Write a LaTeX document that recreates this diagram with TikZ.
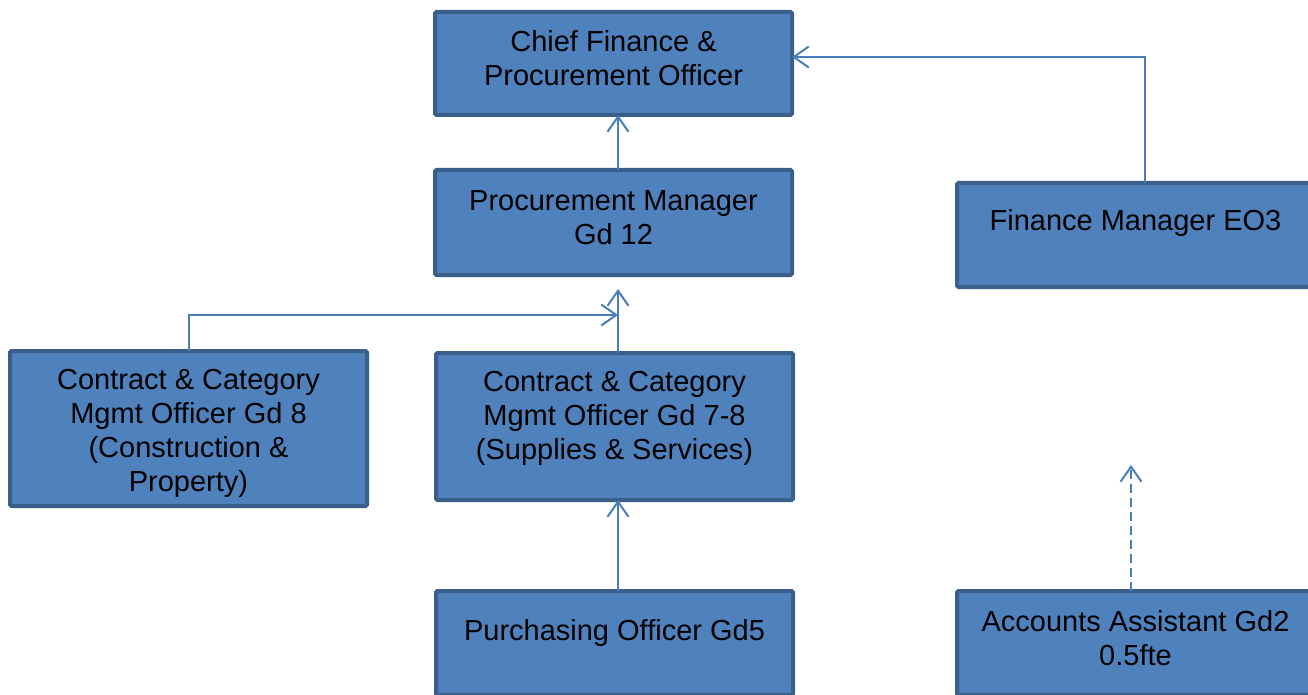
\documentclass[tikz,border=0pt]{standalone}
\usepackage{fontspec}
\setmainfont{Liberation Sans}
\usetikzlibrary{arrows.meta}
\definecolor{boxfill}{HTML}{4F81BD}
\definecolor{boxline}{HTML}{3A5F8B}
\definecolor{conn}{HTML}{4A7EBB}
\tikzset{
  orgbox/.style={draw=boxline, line width=4pt, fill=boxfill, rounded corners=1.5pt,
    minimum width=357pt, inner sep=0pt, outer sep=0pt},
  boxtext/.style={align=center, font=\fontsize{29}{34}\selectfont, text=black, inner sep=0pt},
  link/.style={draw=conn, line width=2pt},
  arr/.style={link, -{Straight Barb[length=15pt,width=21pt,line width=2pt]}},
  dashlink/.style={arr, dash pattern=on 9pt off 5pt}
}
\begin{document}
\begin{tikzpicture}[x=1pt,y=-1pt]
\useasboundingbox (0,0) rectangle (1308,695);
\clip (0,0) rectangle (1308,695);
% boxes
\node[orgbox, minimum height=103pt] (cfo) at (613.5,63.5) {};
\node[orgbox, minimum height=105pt] (pm) at (613.5,222.5) {};
\node[orgbox, minimum height=104pt] (fm) at (1135.5,235) {};
\node[orgbox, minimum height=155pt] (ccl) at (188.5,428.5) {};
\node[orgbox, minimum height=147pt] (ccm) at (614.5,426.5) {};
\node[orgbox, minimum height=104pt] (po) at (614.5,643) {};
\node[orgbox, minimum height=104pt] (aa) at (1135.5,643) {};
% texts
\node[boxtext] (cfot) at ([yshift=5.5pt]cfo.center) {Chief Finance \&\\Procurement Officer};
\node[boxtext] (pmt) at ([yshift=5pt]pm.center) {Procurement Manager\\Gd 12};
\node[boxtext] (fmt) at ([yshift=11.5pt]fm.center) {Finance Manager EO3};
\node[boxtext] (cclt) at ([yshift=-5pt]ccl.center) {Contract \& Category\\Mgmt Officer Gd 8\\(Construction \&\\Property)};
\node[boxtext] (ccmt) at ([yshift=8pt]ccm.center) {Contract \& Category\\Mgmt Officer Gd 7-8\\(Supplies \& Services)};
\node[boxtext] (pot) at ([yshift=10.5pt]po.center) {Purchasing Officer Gd5};
\node[boxtext] (aat) at ([yshift=4.5pt]aa.center) {Accounts Assistant Gd2\\0.5fte};
% connectors
\coordinate (join) at (618,315);
\coordinate (pmin) at (618,289);
\coordinate (aaend) at (1131,465);
\draw[arr] ([xshift=3.5pt]po.north) -- ([xshift=3.5pt]ccm.south);
\draw[arr] ([xshift=3.5pt]ccm.north) -- (pmin);
\draw[arr] (ccl.north) |- (join);
\draw[arr] ([xshift=4.5pt]pm.north) -- ([xshift=4.5pt]cfo.south);
\draw[arr] ([xshift=9.5pt]fm.north) |- ([yshift=6.5pt]cfo.east);
\draw[dashlink] ([xshift=-4.5pt]aa.north) -- (aaend);
\end{tikzpicture}
\end{document}
